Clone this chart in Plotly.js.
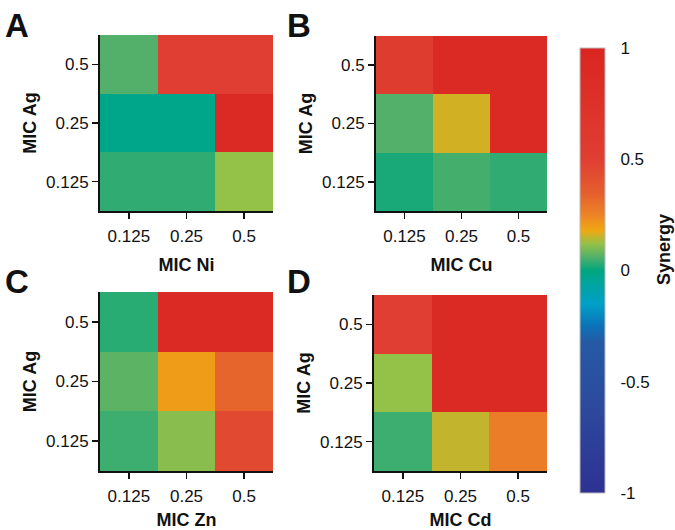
<!DOCTYPE html>
<html>
<head>
<meta charset="utf-8">
<script src="https://cdn.plot.ly/plotly-3.0.1.min.js"></script>
<style>html,body{margin:0;padding:0;background:#fff}#chart{width:675px;height:530px}</style>
</head>
<body>
<div id="chart"></div>
<script>
// Data
const concLabels = ['0.125', '0.25', '0.5'];   // x and y categories (bottom to top for y)
const panelLetters = ['A', 'B', 'C', 'D'];
const metals = ['Ni', 'Cu', 'Zn', 'Cd'];
// rows: Ag 0.125, 0.25, 0.5 ; columns: metal 0.125, 0.25, 0.5
const synergyNi = [
  [0.035, 0.035, 0.12],
  [-0.02, -0.02, 0.9],
  [0.06, 0.5, 0.5]
];
const synergyCu = [
  [0.018, 0.05, 0.035],
  [0.06, 0.16, 0.9],
  [0.55, 0.9, 0.9]
];
const synergyZn = [
  [0.045, 0.11, 0.45],
  [0.07, 0.2, 0.33],
  [0.03, 0.9, 0.9]
];
const synergyCd = [
  [0.045, 0.15, 0.27],
  [0.12, 0.9, 0.9],
  [0.5, 0.9, 0.9]
];
const colorbarTicks = [-1, -0.5, 0, 0.5, 1];

const colorscale = [
  [0.0, '#2e3192'],
  [0.2, '#2c4a9e'],
  [0.34, '#255aa5'],
  [0.375, '#0b72b8'],
  [0.425, '#00a0c8'],
  [0.475, '#00a59a'],
  [0.5, '#00a67e'],
  [0.53, '#52b06a'],
  [0.56, '#94c148'],
  [0.59, '#f0a812'],
  [0.625, '#ec8326'],
  [0.675, '#e55e2e'],
  [0.75, '#e03e32'],
  [1.0, '#da2520']
];

const zs = [synergyNi, synergyCu, synergyZn, synergyCd];
const font = 'Liberation Sans, Arial, sans-serif';

const traces = zs.map((z, i) => ({
  type: 'heatmap',
  x: concLabels, y: concLabels, z: z,
  xaxis: i === 0 ? 'x' : 'x' + (i + 1),
  yaxis: i === 0 ? 'y' : 'y' + (i + 1),
  zmin: -1, zmax: 1, zsmooth: false,
  colorscale: colorscale,
  showscale: i === 0,
  colorbar: {
    x: 580 / 675, xanchor: 'left', xpad: 0, ypad: 0,
    y: 1 - 270.5 / 530, yanchor: 'middle',
    len: 445 / 530, lenmode: 'fraction',
    thickness: 25, thicknessmode: 'pixels',
    outlinewidth: 1, outlinecolor: '#bbbbbb',
    tickvals: colorbarTicks, ticktext: colorbarTicks.map(String),
    ticks: 'outside', ticklen: 12, tickcolor: 'rgba(0,0,0,0)',
    tickfont: {family: font, size: 17, color: '#111'}
  }
}));

// domains in pixels: [left, right, top, bottom]
const boxes = [
  [100, 273, 35, 211],
  [376, 547, 36, 211],
  [100, 273, 292, 471],
  [374, 547, 295, 471]
];

const layout = {
  width: 675, height: 530,
  margin: {l: 0, r: 0, t: 0, b: 0},
  paper_bgcolor: '#fff', plot_bgcolor: '#fff',
  showlegend: false,
  annotations: [],
  font: {family: font, color: '#111'}
};

boxes.forEach((b, i) => {
  const sx = i === 0 ? '' : String(i + 1);
  const common = {
    type: 'category',
    showline: true, linecolor: '#111', linewidth: 2,
    ticks: 'outside', ticklen: 6, tickwidth: 1.5, tickcolor: '#111',
    tickfont: {family: font, size: 17, color: '#111'},
    showgrid: false, zeroline: false, fixedrange: true
  };
  layout['xaxis' + sx] = Object.assign({}, common, {
    domain: [b[0] / 675, b[1] / 675],
    anchor: 'y' + sx,
    ticklabelstandoff: 3,
    categoryorder: 'array', categoryarray: concLabels,
    title: {text: '<b>MIC ' + metals[i] + '</b>', font: {family: font, size: 18, color: '#111'}, standoff: 13}
  });
  layout['yaxis' + sx] = Object.assign({}, common, {
    domain: [1 - b[3] / 530, 1 - b[2] / 530],
    anchor: 'x' + sx,
    categoryorder: 'array', categoryarray: concLabels,
    title: {text: '<b>MIC Ag</b>', font: {family: font, size: 18, color: '#111'}, standoff: 5}
  });
});

const letterPos = [[3, 5], [285, 5], [3, 261], [285, 261]];
letterPos.forEach((p, i) => {
  layout.annotations.push({
    text: '<b>' + panelLetters[i] + '</b>',
    xref: 'paper', yref: 'paper',
    x: p[0] / 675, y: 1 - p[1] / 530,
    xanchor: 'left', yanchor: 'top',
    showarrow: false,
    font: {family: font, size: 33, color: '#111'}
  });
});

layout.annotations.push({
  text: '<b>Synergy</b>',
  xref: 'paper', yref: 'paper',
  x: 664 / 675, y: 1 - 250 / 530,
  xanchor: 'center', yanchor: 'middle',
  textangle: -90, showarrow: false,
  font: {family: font, size: 18, color: '#111'}
});

Plotly.newPlot('chart', traces, layout, {displayModeBar: false, staticPlot: true});
</script>
</body>
</html>
